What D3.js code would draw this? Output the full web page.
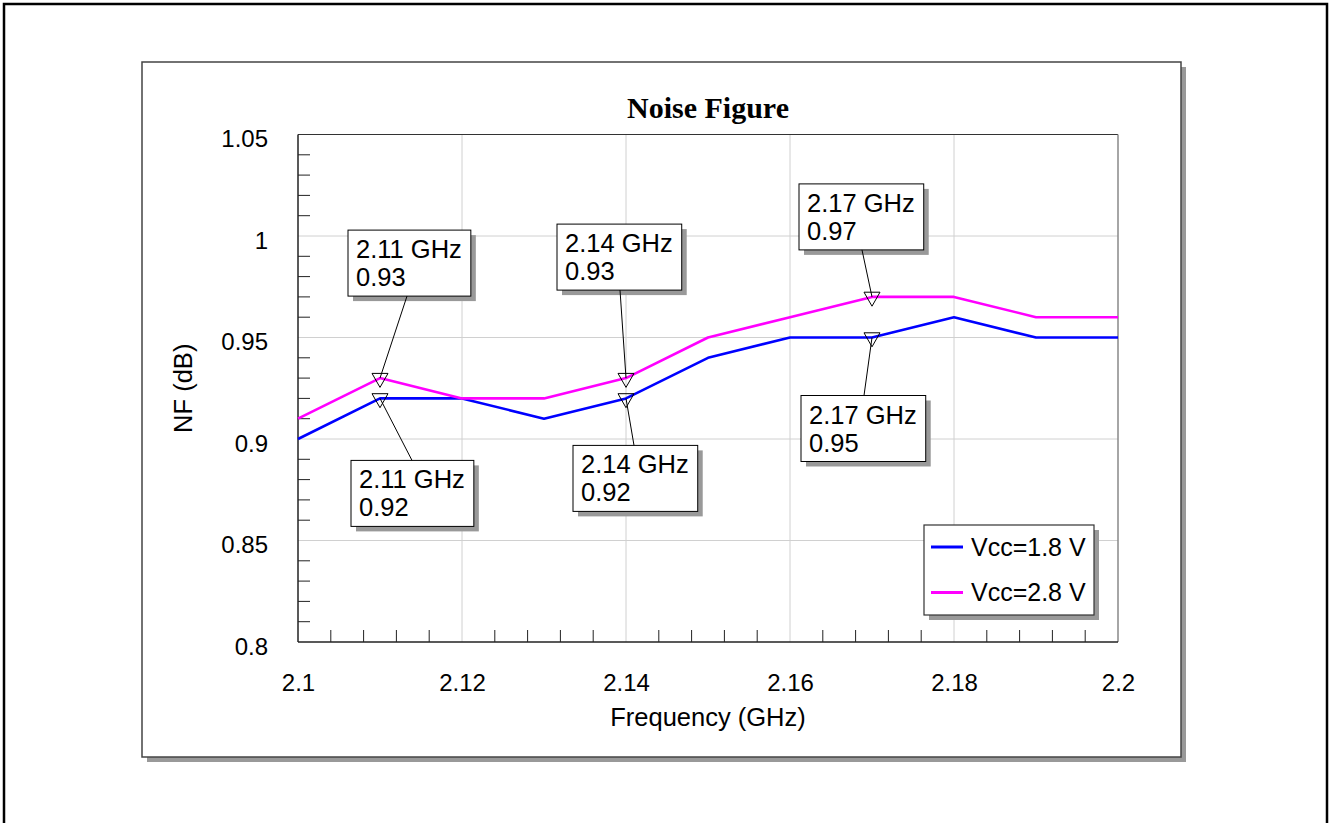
<!DOCTYPE html>
<style>

body {
  margin: 0;
  background: #fff;
}

text {
  font-family: Arial, "Liberation Sans", sans-serif;
  font-size: 24px;
  fill: #000;
}

text.callout {
  font-size: 25.5px;
}

</style>
<body>
<script src="https://cdn.jsdelivr.net/npm/d3@7"></script>
<script>

// frequency sweep (GHz) and noise figure (dB) per supply voltage
var freqs = [2.1, 2.11, 2.12, 2.13, 2.14, 2.15, 2.16, 2.17, 2.18, 2.19, 2.2];
var nf18 = [0.90, 0.92, 0.92, 0.91, 0.92, 0.94, 0.95, 0.95, 0.96, 0.95, 0.95];
var nf28 = [0.91, 0.93, 0.92, 0.92, 0.93, 0.95, 0.96, 0.97, 0.97, 0.96, 0.96];
var seriesNames = ["Vcc=1.8 V", "Vcc=2.8 V"];
var markerFreqs = [2.11, 2.14, 2.17];

var xTickLabels = ["2.1", "2.12", "2.14", "2.16", "2.18", "2.2"];
var yTickLabels = ["0.8", "0.85", "0.9", "0.95", "1", "1.05"];

var width = 1331,
    height = 823;

var colors = ["#0000ff", "#ff00ff"];

var x = d3.scaleLinear().domain([2.1, 2.2]).range([298, 1118]);
var y = d3.scaleLinear().domain([0.8, 1.05]).range([642, 134.5]);

var svg = d3.select("body").append("svg")
    .attr("width", width)
    .attr("height", height);

// outer page border
svg.append("rect")
    .attr("x", 4).attr("y", 4)
    .attr("width", 1323).attr("height", 840)
    .attr("fill", "none")
    .attr("stroke", "#000")
    .attr("stroke-width", 2.5);

// chart frame with drop shadow
svg.append("rect")
    .attr("x", 147).attr("y", 67)
    .attr("width", 1039).attr("height", 695)
    .attr("fill", "#999");
svg.append("rect")
    .attr("x", 142).attr("y", 62)
    .attr("width", 1039).attr("height", 695)
    .attr("fill", "#fff")
    .attr("stroke", "#444")
    .attr("stroke-width", 1.5);

var x0 = x.range()[0], x1 = x.range()[1],
    y0 = y.range()[0], y1 = y.range()[1];

// grid
var xMajor = xTickLabels.map(Number),
    yMajor = yTickLabels.map(Number);

svg.append("g").selectAll("line")
    .data(xMajor.slice(1, -1))
  .enter().append("line")
    .attr("x1", function(d) { return x(d); })
    .attr("x2", function(d) { return x(d); })
    .attr("y1", y0).attr("y2", y1)
    .attr("stroke", "#d0d0d0");

svg.append("g").selectAll("line")
    .data(yMajor.slice(1, -1))
  .enter().append("line")
    .attr("y1", function(d) { return y(d); })
    .attr("y2", function(d) { return y(d); })
    .attr("x1", x0).attr("x2", x1)
    .attr("stroke", "#d0d0d0");

// minor ticks, inside the plot
var xMinor = d3.range(0, 26).filter(function(i) { return i % 5; })
    .map(function(i) { return 2.1 + i * 0.004; });
var yMinor = d3.range(0, 26).filter(function(i) { return i % 5; })
    .map(function(i) { return 0.8 + i * 0.01; });

svg.append("g").selectAll("line")
    .data(xMinor)
  .enter().append("line")
    .attr("x1", function(d) { return x(d); })
    .attr("x2", function(d) { return x(d); })
    .attr("y1", y0).attr("y2", y0 - 12)
    .attr("stroke", "#222");

svg.append("g").selectAll("line")
    .data(yMinor)
  .enter().append("line")
    .attr("y1", function(d) { return y(d); })
    .attr("y2", function(d) { return y(d); })
    .attr("x1", x0).attr("x2", x0 + 12)
    .attr("stroke", "#222");

// plot borders
svg.append("line").attr("x1", x0).attr("x2", x1).attr("y1", y1).attr("y2", y1)
    .attr("stroke", "#333").attr("stroke-width", 1.2);
svg.append("line").attr("x1", x1).attr("x2", x1).attr("y1", y1).attr("y2", y0)
    .attr("stroke", "#888").attr("stroke-width", 1.5);
svg.append("line").attr("x1", x0).attr("x2", x1).attr("y1", y0).attr("y2", y0)
    .attr("stroke", "#222").attr("stroke-width", 1.5);
svg.append("line").attr("x1", x0).attr("x2", x0).attr("y1", y1).attr("y2", y0)
    .attr("stroke", "#222").attr("stroke-width", 1.5);

// axis labels
var xAxis = svg.append("g")
    .attr("transform", "translate(0," + y0 + ")")
    .call(d3.axisBottom(x).tickValues(xMajor)
        .tickFormat(function(d, i) { return xTickLabels[i]; })
        .tickSize(0).tickPadding(32));
xAxis.select(".domain").remove();
xAxis.selectAll("text")
    .attr("font-family", null).attr("font-size", null).attr("fill", null);

var yAxis = svg.append("g")
    .attr("transform", "translate(" + (x0 - 30) + ",0)")
    .call(d3.axisLeft(y).tickValues(yMajor)
        .tickFormat(function(d, i) { return yTickLabels[i]; })
        .tickSize(0).tickPadding(0));
yAxis.select(".domain").remove();
yAxis.selectAll("text")
    .attr("font-family", null).attr("font-size", null).attr("fill", null)
    .attr("dy", 12);

svg.append("text")
    .attr("x", (x0 + x1) / 2).attr("y", 726)
    .attr("text-anchor", "middle")
    .style("font-size", "25.5px")
    .text("Frequency (GHz)");

svg.append("text")
    .attr("transform", "translate(192," + (y0 + y1) / 2 + ") rotate(-90)")
    .attr("text-anchor", "middle")
    .style("font-size", "25.5px")
    .text("NF (dB)");

svg.append("text")
    .attr("x", (x0 + x1) / 2).attr("y", 118)
    .attr("text-anchor", "middle")
    .style("font-family", "'Times New Roman', 'Liberation Serif', serif")
    .style("font-weight", "bold")
    .style("font-size", "30px")
    .text("Noise Figure");

// series lines
var line = d3.line()
    .x(function(d) { return x(d[0]); })
    .y(function(d) { return y(d[1]); });

[nf18, nf28].forEach(function(vals, k) {
  svg.append("path")
      .datum(d3.zip(freqs, vals))
      .attr("fill", "none")
      .attr("stroke", colors[k])
      .attr("stroke-width", 2.6)
      .attr("stroke-linejoin", "round")
      .attr("d", line);
});

// marker callouts: box offset (left, top) from the marked point, leader start x offset
var calloutLayout = [
  // Vcc=1.8 V, below the curve
  [{dx: -29, dy: 62, lx: 32}, {dx: -53, dy: 47, lx: 8}, {dx: -71, dy: 58, lx: -8}],
  // Vcc=2.8 V, above the curve
  [{dx: -32, dy: -148, lx: 27}, {dx: -69, dy: -154, lx: -6}, {dx: -73, dy: -113, lx: -10}]
];

[nf18, nf28].forEach(function(vals, k) {
  markerFreqs.forEach(function(f, j) {
    var i = freqs.indexOf(f),
        px = x(f), py = y(vals[i]),
        lay = calloutLayout[k][j],
        bx = px + lay.dx, by = py + lay.dy;

    var g = svg.append("g");
    var shadow = g.append("rect").attr("fill", "#999");
    var box = g.append("rect").attr("fill", "#fff")
        .attr("stroke", "#000").attr("stroke-width", 1);
    var t1 = g.append("text").attr("class", "callout")
        .attr("x", bx + 8).attr("y", by + 28)
        .text(f.toFixed(2) + " GHz");
    var t2 = g.append("text").attr("class", "callout")
        .attr("x", bx + 8).attr("y", by + 56)
        .text(vals[i].toFixed(2));
    var w = Math.max(t1.node().getComputedTextLength(),
                     t2.node().getComputedTextLength()) + 17,
        h = 66;
    shadow.attr("x", bx + 5).attr("y", by + 5).attr("width", w).attr("height", h);
    box.attr("x", bx).attr("y", by).attr("width", w).attr("height", h);

    var ly = lay.dy > 0 ? by : by + h;
    svg.append("line")
        .attr("x1", px + lay.lx).attr("y1", ly)
        .attr("x2", px).attr("y2", py)
        .attr("stroke", "#000").attr("stroke-width", 1);

    // downward triangle centred on the point
    svg.append("path")
        .attr("d", "M" + (px - 8) + "," + (py - 4.7) + "L" + (px + 8) + "," + (py - 4.7)
            + "L" + px + "," + (py + 9.3) + "Z")
        .attr("fill", "none")
        .attr("stroke", "#000")
        .attr("stroke-width", 1);
  });
});

// legend
var lg = svg.append("g").attr("transform", "translate(924,525)");
lg.append("rect").attr("x", 5).attr("y", 5).attr("width", 170).attr("height", 90)
    .attr("fill", "#999");
lg.append("rect").attr("width", 170).attr("height", 90)
    .attr("fill", "#fff").attr("stroke", "#333").attr("stroke-width", 1.2);

seriesNames.forEach(function(name, k) {
  var ly = 22 + k * 45.5;
  lg.append("line")
      .attr("x1", 7).attr("x2", 39)
      .attr("y1", ly).attr("y2", ly)
      .attr("stroke", colors[k]).attr("stroke-width", 3);
  lg.append("text")
      .attr("x", 47).attr("y", ly + 8.5)
      .style("font-size", "25px")
      .text(name);
});

</script>
